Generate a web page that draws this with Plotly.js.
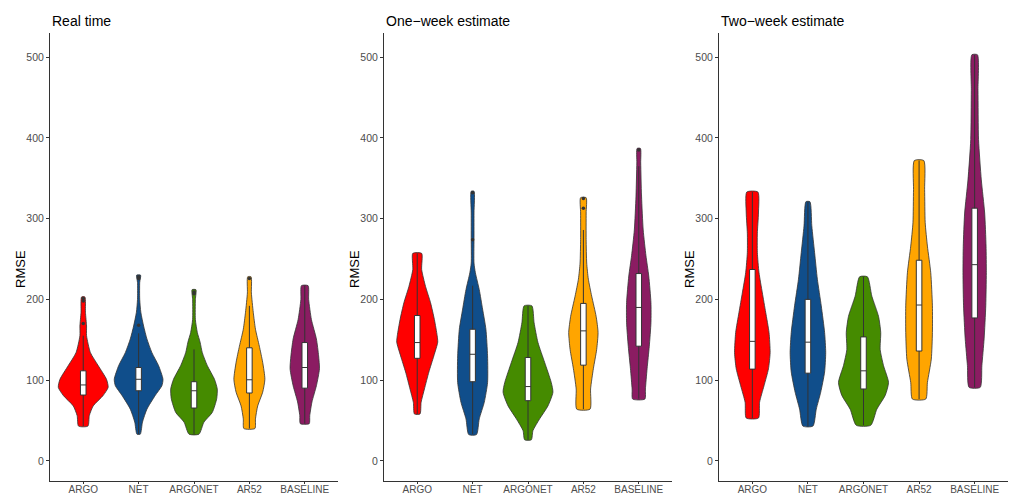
<!DOCTYPE html>
<html>
<head>
<meta charset="utf-8">
<script src="https://cdn.plot.ly/plotly-3.0.1.min.js"></script>
<style>html,body{margin:0;padding:0;background:#fff;}#chart{width:1016px;height:494px;}</style>
</head>
<body>
<div id="chart"></div>
<script>
// ---------- categories, titles, colours ----------
const CATEGORIES = ["ARGO", "NET", "ARGONET", "AR52", "BASELINE"];
const PANEL_TITLES = ["Real time", "One\u2212week estimate", "Two\u2212week estimate"];
const COLORS = ["#FF0000", "#104E8B", "#458B00", "#FFA500", "#8B1C62"];
const Y_TICKS = [0, 100, 200, 300, 400, 500];

// ---------- violin density profiles (RMSE level, half-width in category units) ----------
// Real time
const RT_ARGO_Y = [43, 56, 68, 81, 91, 101, 118, 134, 155, 167, 184, 203];
const RT_ARGO_W = [0.085, 0.11, 0.18, 0.36, 0.45, 0.42, 0.27, 0.13, 0.06, 0.06, 0.04, 0.03];
const RT_NET_Y = [33, 48, 64, 81, 93, 101, 118, 134, 151, 167, 184, 200, 221, 230];
const RT_NET_W = [0.03, 0.07, 0.15, 0.30, 0.42, 0.44, 0.36, 0.24, 0.15, 0.09, 0.04, 0.02, 0.02, 0.036];
const RT_ARGONET_Y = [33, 48, 60, 77, 89, 101, 118, 134, 147, 159, 175, 200, 212];
const RT_ARGONET_W = [0.09, 0.18, 0.33, 0.41, 0.42, 0.37, 0.24, 0.15, 0.11, 0.06, 0.025, 0.025, 0.035];
const RT_AR52_Y = [40, 52, 68, 85, 101, 122, 142, 163, 184, 208, 228];
const RT_AR52_W = [0.10, 0.11, 0.15, 0.24, 0.28, 0.24, 0.18, 0.11, 0.07, 0.036, 0.03];
const RT_BASELINE_Y = [46, 56, 73, 93, 114, 130, 151, 175, 200, 217];
const RT_BASELINE_W = [0.08, 0.09, 0.13, 0.21, 0.265, 0.25, 0.21, 0.12, 0.07, 0.06];
// One-week estimate
const OW_ARGO_Y = [58, 72.5, 89, 110, 130, 147, 155, 175, 196, 216, 237, 257];
const OW_ARGO_W = [0.05, 0.07, 0.13, 0.21, 0.30, 0.37, 0.36, 0.31, 0.24, 0.15, 0.08, 0.08];
const OW_NET_Y = [32.5, 52, 72.5, 97, 130, 163, 188, 212, 233, 245, 274, 307, 334];
const OW_NET_W = [0.07, 0.12, 0.21, 0.27, 0.27, 0.24, 0.18, 0.12, 0.05, 0.025, 0.025, 0.025, 0.025];
const OW_ARGONET_Y = [26, 37.5, 52, 68, 85, 97, 122, 146.5, 171, 192];
const OW_ARGONET_W = [0.06, 0.09, 0.21, 0.36, 0.45, 0.42, 0.30, 0.18, 0.11, 0.07];
const OW_AR52_Y = [64, 89, 114, 138, 159, 179, 204, 225, 245, 274, 307, 326];
const OW_AR52_W = [0.12, 0.13, 0.18, 0.24, 0.265, 0.23, 0.15, 0.09, 0.06, 0.05, 0.05, 0.05];
const OW_BASELINE_Y = [76.5, 89, 114, 142, 171, 196, 229, 254, 286, 328, 369, 387];
const OW_BASELINE_W = [0.11, 0.12, 0.15, 0.19, 0.22, 0.22, 0.18, 0.13, 0.08, 0.05, 0.035, 0.03];
// Two-week estimate
const TW_ARGO_Y = [53, 72.5, 93, 114, 134, 159, 184, 208, 233, 258, 282, 307, 333];
const TW_ARGO_W = [0.11, 0.13, 0.21, 0.29, 0.32, 0.30, 0.24, 0.18, 0.12, 0.09, 0.09, 0.11, 0.10];
const TW_NET_Y = [43, 64, 85, 110, 134, 159, 192, 225, 258, 291, 321];
const TW_NET_W = [0.09, 0.15, 0.23, 0.30, 0.32, 0.30, 0.24, 0.17, 0.12, 0.07, 0.036];
const TW_ARGONET_Y = [44, 64, 81, 97, 118, 138, 159, 179, 204, 228];
const TW_ARGONET_W = [0.13, 0.24, 0.39, 0.45, 0.36, 0.30, 0.31, 0.27, 0.15, 0.07];
const TW_AR52_Y = [76.5, 97, 126, 159, 192, 233, 266, 295, 336, 372];
const TW_AR52_W = [0.12, 0.15, 0.22, 0.24, 0.24, 0.21, 0.15, 0.11, 0.10, 0.085];
const TW_BASELINE_Y = [91, 118, 151, 192, 233, 266, 307, 348, 398, 459, 503];
const TW_BASELINE_W = [0.10, 0.13, 0.17, 0.20, 0.21, 0.205, 0.18, 0.12, 0.07, 0.06, 0.05];

// ---------- box statistics per panel (order = CATEGORIES) ----------
const RT_Q1 = [81.5, 86.8, 65.4, 84, 90];
const RT_MED = [94, 101, 86.8, 100.4, 115.6];
const RT_Q3 = [111.5, 115.6, 98, 140, 146.5];
const RT_LO = [43, 33, 33, 40, 46];
const RT_HI = [155, 158, 138, 192, 217];
const OW_Q1 = [127, 98, 74.5, 118.5, 142];
const OW_MED = [146.5, 132, 92, 161, 190];
const OW_Q3 = [180, 163, 128, 195, 232];
const OW_LO = [58, 33, 26, 64, 77];
const OW_HI = [257, 217, 192, 286, 365];
const TW_Q1 = [113.6, 108.6, 89, 136, 177];
const TW_MED = [148, 147, 111.5, 193, 243];
const TW_Q3 = [237, 200, 153.5, 248.5, 313];
const TW_LO = [53, 43, 44, 76.5, 91];
const TW_HI = [333, 321, 228, 372, 503];

// ---------- outliers (category index, RMSE) ----------
const RT_OUT_CAT = [0, 0, 0, 1, 1, 1, 2, 2, 3];
const RT_OUT_VAL = [201, 198, 170, 228, 226, 168, 209, 207, 226];
const OW_OUT_CAT = [1, 1, 3, 3, 4];
const OW_OUT_VAL = [274, 332, 313, 325, 385];
const TW_OUT_CAT = [];
const TW_OUT_VAL = [];

// ---------- build ----------
const panels = [
  {prof: [[RT_ARGO_Y, RT_ARGO_W], [RT_NET_Y, RT_NET_W], [RT_ARGONET_Y, RT_ARGONET_W], [RT_AR52_Y, RT_AR52_W], [RT_BASELINE_Y, RT_BASELINE_W]],
   q1: RT_Q1, med: RT_MED, q3: RT_Q3, lo: RT_LO, hi: RT_HI, oc: RT_OUT_CAT, ov: RT_OUT_VAL},
  {prof: [[OW_ARGO_Y, OW_ARGO_W], [OW_NET_Y, OW_NET_W], [OW_ARGONET_Y, OW_ARGONET_W], [OW_AR52_Y, OW_AR52_W], [OW_BASELINE_Y, OW_BASELINE_W]],
   q1: OW_Q1, med: OW_MED, q3: OW_Q3, lo: OW_LO, hi: OW_HI, oc: OW_OUT_CAT, ov: OW_OUT_VAL},
  {prof: [[TW_ARGO_Y, TW_ARGO_W], [TW_NET_Y, TW_NET_W], [TW_ARGONET_Y, TW_ARGONET_W], [TW_AR52_Y, TW_AR52_W], [TW_BASELINE_Y, TW_BASELINE_W]],
   q1: TW_Q1, med: TW_MED, q3: TW_Q3, lo: TW_LO, hi: TW_HI, oc: TW_OUT_CAT, ov: TW_OUT_VAL}
];

const W = 1016, H = 494;
const xDomPx = [[50, 338], [384, 672], [719, 1008]];
const yDom = [1 - 481 / H, 1 - 33 / H];
const X_RANGE = [-0.6, 4.6];
const Y_RANGE = [-25, 530];
const OUTLINE = "#333333";

const traces = [];
const layout = {
  width: W, height: H,
  margin: {l: 0, r: 0, t: 0, b: 0},
  paper_bgcolor: "#ffffff", plot_bgcolor: "rgba(0,0,0,0)",
  showlegend: false, hovermode: false,
  boxmode: "overlay",
  font: {family: "Liberation Sans, Arial, sans-serif"},
  annotations: []
};

panels.forEach((p, k) => {
  const sfx = k === 0 ? "" : String(k + 1);
  const osfx = String(k + 4);
  const xa = "x" + sfx, ya = "y" + sfx;
  const xo = "x" + osfx, yo = "y" + osfx;
  p.prof.forEach((pr, i) => {
    const [ys, ws] = pr;
    const xs = ys.map((v, j) => i + ws[j]);
    const xl = ys.map((v, j) => i - ws[j]).reverse();
    const yl = ys.slice().reverse();
    traces.push({
      type: "scatter", mode: "lines", xaxis: xa, yaxis: ya,
      x: xs.concat(xl).concat([xs[0]]), y: ys.concat(yl).concat([ys[0]]),
      fill: "toself", fillcolor: COLORS[i],
      line: {color: OUTLINE, width: 0.8, shape: "spline", smoothing: 0.6},
      hoverinfo: "skip"
    });
  });
  // boxes on an overlaid subplot so they sit above the violins
  traces.push({
    type: "box", xaxis: xo, yaxis: yo,
    x: CATEGORIES.map((c, i) => i),
    q1: p.q1, median: p.med, q3: p.q3, lowerfence: p.lo, upperfence: p.hi,
    width: 0.1, whiskerwidth: 0, boxpoints: false,
    fillcolor: "#ffffff", line: {color: OUTLINE, width: 1},
    hoverinfo: "skip"
  });
  if (p.oc.length) {
    traces.push({
      type: "scatter", mode: "markers", xaxis: xo, yaxis: yo,
      x: p.oc, y: p.ov,
      marker: {size: 3.5, color: OUTLINE}, hoverinfo: "skip"
    });
  }
  const axCommon = {
    showline: true, linecolor: "#333333", linewidth: 1,
    ticks: "outside", ticklen: 3, tickcolor: "#333333", tickwidth: 1,
    tickfont: {size: 10.5, color: "#4d4d4d"},
    showgrid: false, zeroline: false, fixedrange: true
  };
  layout["xaxis" + sfx] = Object.assign({}, axCommon, {
    domain: [xDomPx[k][0] / W, xDomPx[k][1] / W],
    anchor: ya, range: X_RANGE,
    tickmode: "array", tickvals: CATEGORIES.map((c, i) => i), ticktext: CATEGORIES,
    ticklen: 2, ticklabelstandoff: -3, tickfont: {size: 10, color: "#4d4d4d"}
  });
  layout["yaxis" + sfx] = Object.assign({}, axCommon, {
    domain: yDom, anchor: xa, range: Y_RANGE,
    tickmode: "array", tickvals: Y_TICKS, ticktext: Y_TICKS.map(String)
  });
  layout["xaxis" + osfx] = {
    overlaying: xa, anchor: yo, range: X_RANGE, visible: false, fixedrange: true
  };
  layout["yaxis" + osfx] = {
    overlaying: ya, anchor: xo, range: Y_RANGE, visible: false, fixedrange: true
  };
  layout.annotations.push({
    xref: "paper", yref: "paper", x: xDomPx[k][0] / W, y: 1 - 21 / H,
    xanchor: "left", yanchor: "middle", showarrow: false,
    text: PANEL_TITLES[k], font: {size: 14, color: "#000000"}
  });
  layout.annotations.push({
    xref: "paper", yref: "paper", x: (xDomPx[k][0] - 30) / W, y: 1 - 269 / H,
    xanchor: "center", yanchor: "middle", showarrow: false, textangle: -90,
    text: "RMSE", font: {size: 13, color: "#000000"}
  });
});

Plotly.newPlot("chart", traces, layout, {staticPlot: true, displayModeBar: false});
</script>
</body>
</html>
